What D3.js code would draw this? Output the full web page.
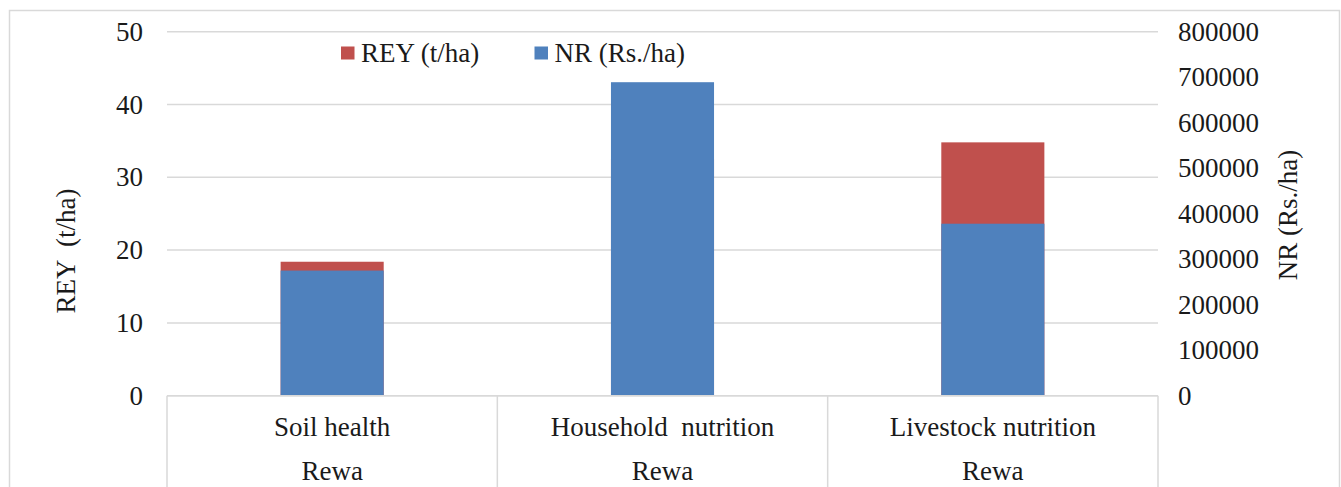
<!DOCTYPE html>
<html>
<head>
<meta charset="utf-8">
<script src="https://cdn.jsdelivr.net/npm/d3@7"></script>
<style>
  html, body { margin: 0; padding: 0; background: #fff; }
  svg { display: block; }
  svg text { font-family: "Liberation Serif", "Times New Roman", Tinos, "DejaVu Serif", serif !important; fill: #1a1a1a; }
</style>
</head>
<body>
<svg id="chart" width="1341" height="487"></svg>
<script>
// Intervention categories and district labels
const categories = ["Soil health", "Household  nutrition", "Livestock nutrition"];
const districts = ["Rewa", "Rewa", "Rewa"];

// Rice equivalent yield (t/ha), primary axis
const rey = [18.4, 32.5, 34.8];
// Net returns (Rs./ha), secondary axis
const nr = [275000, 689000, 378000];

// Axis ticks
const reyTicks = [0, 10, 20, 30, 40, 50];
const nrTicks = [0, 100000, 200000, 300000, 400000, 500000, 600000, 700000, 800000];

const seriesNames = ["REY (t/ha)", "NR (Rs./ha)"];
const colors = { rey: "#C0504D", nr: "#4F81BD" };

const svg = d3.select("#chart");
const W = 1341, H = 487;
const plot = { left: 167, right: 1158, top: 31.7, bottom: 395.7 };
const fontSize = 27;
const serif = "'Liberation Serif', 'Times New Roman', serif";

// Chart frame
svg.append("path")
  .attr("d", `M9.5,${H} V10.5 H1339.5 V${H}`)
  .attr("fill", "none")
  .attr("stroke", "#d9d9d9")
  .attr("stroke-width", 1.5);

const x = d3.scaleBand().domain(categories).range([plot.left, plot.right]).padding(0);
const yL = d3.scaleLinear().domain([0, 50]).range([plot.bottom, plot.top]);
const yR = d3.scaleLinear().domain([0, 800000]).range([plot.bottom, plot.top]);
const barW = x.bandwidth() * 0.312;

// Gridlines from the primary axis
svg.append("g").selectAll("line")
  .data(reyTicks)
  .join("line")
  .attr("x1", plot.left).attr("x2", plot.right)
  .attr("y1", d => yL(d)).attr("y2", d => yL(d))
  .attr("stroke", "#d9d9d9").attr("stroke-width", 1.5);

// Left axis labels
const axL = svg.append("g")
  .attr("transform", `translate(${plot.left - 24},0)`)
  .call(d3.axisLeft(yL).tickValues(reyTicks).tickSize(0).tickPadding(0))
  .attr("font-family", serif);
axL.select(".domain").remove();
axL.selectAll("text")
  .attr("font-size", fontSize)
  .attr("fill", "#1a1a1a");

// Right axis labels
const axR = svg.append("g")
  .attr("transform", `translate(${plot.right + 20},0)`)
  .call(d3.axisRight(yR).tickValues(nrTicks).tickSize(0).tickPadding(0).tickFormat(d3.format("d")))
  .attr("font-family", serif);
axR.select(".domain").remove();
axR.selectAll("text")
  .attr("font-size", fontSize)
  .attr("fill", "#1a1a1a");

// REY bars (primary axis), drawn behind
svg.append("g").selectAll("rect")
  .data(categories)
  .join("rect")
  .attr("x", d => x(d) + (x.bandwidth() - barW) / 2)
  .attr("width", barW)
  .attr("y", (d, i) => yL(rey[i]))
  .attr("height", (d, i) => yL(0) - yL(rey[i]))
  .attr("fill", colors.rey);

// NR bars (secondary axis), drawn in front
svg.append("g").selectAll("rect")
  .data(categories)
  .join("rect")
  .attr("x", d => x(d) + (x.bandwidth() - barW) / 2)
  .attr("width", barW)
  .attr("y", (d, i) => yR(nr[i]))
  .attr("height", (d, i) => yR(0) - yR(nr[i]))
  .attr("fill", colors.nr);

// Multi-level category axis: baseline, separators and labels
const cat = svg.append("g").attr("font-family", serif);
cat.append("line")
  .attr("x1", plot.left).attr("x2", plot.right)
  .attr("y1", plot.bottom).attr("y2", plot.bottom)
  .attr("stroke", "#d9d9d9").attr("stroke-width", 1.5);
const bounds = categories.map(d => x(d)).concat([plot.right]);
cat.selectAll("line.sep")
  .data(bounds)
  .join("line")
  .attr("class", "sep")
  .attr("x1", d => d).attr("x2", d => d)
  .attr("y1", plot.bottom).attr("y2", H)
  .attr("stroke", "#d9d9d9").attr("stroke-width", 1.5);
cat.selectAll("text.cat")
  .data(categories)
  .join("text")
  .attr("class", "cat")
  .attr("x", d => x(d) + x.bandwidth() / 2)
  .attr("y", 427)
  .attr("dy", "0.35em")
  .attr("text-anchor", "middle")
  .attr("font-size", fontSize)
  .style("white-space", "pre")
  .text(d => d);
cat.selectAll("text.dist")
  .data(districts)
  .join("text")
  .attr("class", "dist")
  .attr("x", (d, i) => x(categories[i]) + x.bandwidth() / 2)
  .attr("y", 471)
  .attr("dy", "0.35em")
  .attr("text-anchor", "middle")
  .attr("font-size", fontSize)
  .text(d => d);

// Axis titles
svg.append("text")
  .attr("transform", "translate(66,251) rotate(-90)")
  .attr("text-anchor", "middle")
  .attr("dy", "0.35em")
  .attr("font-size", fontSize)
  .style("white-space", "pre")
  .text("REY  (t/ha)");
svg.append("text")
  .attr("transform", "translate(1288,215) rotate(-90)")
  .attr("text-anchor", "middle")
  .attr("dy", "0.35em")
  .attr("font-size", fontSize)
  .text("NR (Rs./ha)");

// Legend
const legendItems = [
  { name: seriesNames[0], color: colors.rey, x: 341 },
  { name: seriesNames[1], color: colors.nr, x: 534.5 }
];
const lg = svg.append("g").selectAll("g")
  .data(legendItems)
  .join("g")
  .attr("transform", d => `translate(${d.x},53)`);
lg.append("rect")
  .attr("x", 0).attr("y", -6.5)
  .attr("width", 13.5).attr("height", 13)
  .attr("fill", d => d.color);
lg.append("text")
  .attr("x", 20)
  .attr("dy", "0.35em")
  .attr("font-size", fontSize)
  .text(d => d.name);
</script>
</body>
</html>
